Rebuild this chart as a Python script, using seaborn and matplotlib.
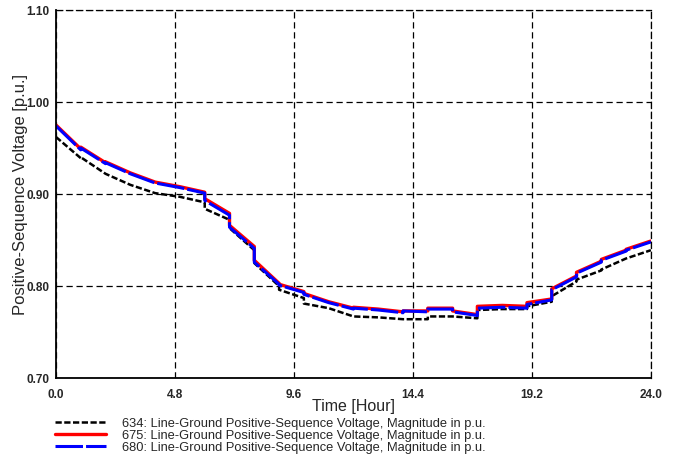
import numpy as np
import pandas as pd
import matplotlib
matplotlib.use('Agg')
import matplotlib.pyplot as plt
import seaborn as sns
from matplotlib.ticker import MultipleLocator, FormatStrFormatter

sns.set_style('white')
plt.rcParams['font.family'] = ['Liberation Sans', 'DejaVu Sans']

# value at the start and at the end of each hour (steps at hour boundaries)
hours = list(range(24))
v634_start = [0.962, 0.940, 0.922, 0.910, 0.901, 0.897, 0.884, 0.863, 0.825, 0.796, 0.781, 0.776,
              0.767, 0.766, 0.764, 0.767, 0.767, 0.774, 0.775, 0.778, 0.789, 0.807, 0.818, 0.830]
v634_end = [0.939, 0.922, 0.910, 0.901, 0.897, 0.891, 0.872, 0.839, 0.800, 0.787, 0.776, 0.767,
            0.766, 0.764, 0.764, 0.767, 0.765, 0.775, 0.775, 0.783, 0.805, 0.817, 0.830, 0.839]
v675_start = [0.975, 0.951, 0.935, 0.923, 0.913, 0.908, 0.895, 0.866, 0.828, 0.802, 0.792, 0.783,
              0.777, 0.775, 0.773, 0.776, 0.773, 0.778, 0.779, 0.782, 0.797, 0.815, 0.829, 0.840]
v675_end = [0.949, 0.934, 0.923, 0.913, 0.908, 0.902, 0.879, 0.843, 0.803, 0.794, 0.783, 0.776,
            0.775, 0.772, 0.773, 0.776, 0.769, 0.779, 0.778, 0.786, 0.811, 0.827, 0.839, 0.849]
v680_start = [0.974, 0.950, 0.934, 0.922, 0.912, 0.907, 0.893, 0.864, 0.826, 0.801, 0.791, 0.782,
              0.776, 0.774, 0.773, 0.775, 0.772, 0.776, 0.777, 0.780, 0.796, 0.814, 0.828, 0.839]
v680_end = [0.948, 0.933, 0.922, 0.912, 0.907, 0.901, 0.877, 0.841, 0.802, 0.793, 0.782, 0.775,
            0.774, 0.771, 0.772, 0.775, 0.768, 0.777, 0.776, 0.785, 0.810, 0.826, 0.838, 0.848]

labels = ['634: Line-Ground Positive-Sequence Voltage, Magnitude in p.u.',
          '675: Line-Ground Positive-Sequence Voltage, Magnitude in p.u.',
          '680: Line-Ground Positive-Sequence Voltage, Magnitude in p.u.']


def step_frame(start, end):
    t, v = [], []
    for h, a, b in zip(hours, start, end):
        t += [h, h + 1]
        v += [a, b]
    return pd.DataFrame({'t': t, 'v': v})


fig = plt.figure(figsize=(6.83, 4.55), dpi=100)
ax = fig.add_axes([0.082, 0.169, 0.871, 0.809])

styles = [
    (v634_start, v634_end, 'black', (2.5, 1), 1.8),
    (v675_start, v675_end, 'red', '', 2.4),
    (v680_start, v680_end, 'blue', (9, 1), 2.2),
]
for (s, e, c, d, lw), lab in zip(styles, labels):
    df = step_frame(s, e)
    sns.lineplot(data=df, x='t', y='v', ax=ax, estimator=None, sort=False,
                 color=c, linewidth=lw, label=lab)
    if d:
        ax.lines[-1].set_dashes(d)

ax.set_xlim(0, 24)
ax.set_ylim(0.70, 1.10)
ax.xaxis.set_major_locator(MultipleLocator(4.8))
ax.xaxis.set_minor_locator(MultipleLocator(2.4))
ax.yaxis.set_major_locator(MultipleLocator(0.1))
ax.yaxis.set_minor_locator(MultipleLocator(0.05))
ax.xaxis.set_major_formatter(FormatStrFormatter('%.1f'))
ax.yaxis.set_major_formatter(FormatStrFormatter('%.2f'))
ax.tick_params(which='both', direction='in', length=4, width=1, color='black',
               labelsize=8.5)
ax.tick_params(axis='x', pad=8)
ax.tick_params(axis='y', pad=5)
for lab in ax.get_xticklabels() + ax.get_yticklabels():
    lab.set_fontweight('bold')

ax.grid(True, which='major', linestyle=(0, (5, 3)), color='black', linewidth=0.9)
for side in ['left', 'bottom']:
    ax.spines[side].set_color('black')
    ax.spines[side].set_linewidth(1.3)
for side in ['top', 'right']:
    ax.spines[side].set_linestyle((0, (5, 3)))
    ax.spines[side].set_color('black')
    ax.spines[side].set_linewidth(0.9)

ax.set_xlabel('Time [Hour]', fontsize=11.5)
ax.set_ylabel('Positive-Sequence Voltage [p.u.]', fontsize=12)
ax.xaxis.set_label_coords(0.5, -0.058)
ax.yaxis.set_label_coords(-0.047, 0.5)

handles, labs = ax.get_legend_handles_labels()
ax.get_legend().remove()
fig.legend(handles, labs, loc='upper left', bbox_to_anchor=(0.08, 0.082), frameon=False,
           fontsize=9.3, handlelength=4.0, labelspacing=0.0, handletextpad=1.2,
           borderpad=0, borderaxespad=0)

fig.savefig('out.png', dpi=100)
